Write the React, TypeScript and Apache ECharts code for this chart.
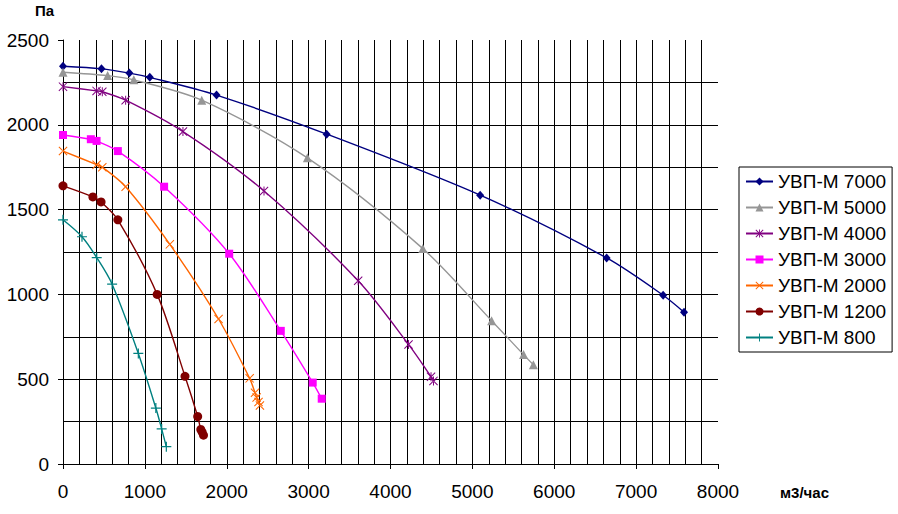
import React, { useEffect, useRef } from "react";
import * as echarts from "echarts";

const seriesNames = ["УВП-М 7000", "УВП-М 5000", "УВП-М 4000", "УВП-М 3000", "УВП-М 2000", "УВП-М 1200", "УВП-М 800"];

const q7000 = [0, 470, 810, 1060, 1875, 3220, 5095, 6640, 7330, 7585];
const p7000 = [2345, 2330, 2305, 2280, 2175, 1945, 1585, 1215, 995, 895];

const q5000 = [0, 545, 865, 1695, 2985, 4395, 5235, 5625, 5745];
const p5000 = [2310, 2290, 2265, 2145, 1805, 1270, 845, 645, 585];

const q4000 = [0, 410, 480, 765, 1465, 2455, 3605, 4220, 4495, 4525];
const p4000 = [2225, 2200, 2195, 2145, 1960, 1610, 1080, 705, 515, 490];

const q3000 = [0, 340, 410, 670, 1235, 2030, 2660, 3050, 3160];
const p3000 = [1940, 1915, 1905, 1845, 1635, 1240, 785, 480, 385];

const q2000 = [0, 410, 480, 765, 1305, 1900, 2280, 2345, 2365, 2388, 2405];
const p2000 = [1845, 1765, 1750, 1635, 1295, 855, 505, 420, 392, 366, 345];

const q1200 = [0, 365, 465, 670, 1150, 1490, 1645, 1683, 1699, 1716];
const p1200 = [1640, 1575, 1545, 1440, 1000, 517, 280, 204, 188, 170];

const q800 = [0, 232, 412, 600, 920, 1134, 1205, 1262];
const p800 = [1440, 1340, 1217, 1060, 652, 330, 207, 102];

// major ticks (labelled) and minor gridline subdivisions
const xTicks = { min: 0, max: 8000, step: 1000, minorSplits: 5 };
const yTicks = { min: 0, max: 2500, step: 500, minorSplits: 2 };

const colors = ["#000080", "#969696", "#800080", "#FF00FF", "#FF6600", "#800000", "#008080"];

const PLUS = "path://M0,4.4H10V5.6H0Z M4.4,0H5.6V10H4.4Z";
const XMARK = "path://M0,0.8L0.8,0L10,9.2L9.2,10Z M10,0.8L9.2,0L0,9.2L0.8,10Z";
const STAR = "path://M0,0.8L0.8,0L10,9.2L9.2,10Z M10,0.8L9.2,0L0,9.2L0.8,10Z M4.45,0H5.55V10H4.45Z";

const symbols: any[] = [
  { symbol: "diamond", size: [8, 9] },
  { symbol: "triangle", size: 9 },
  { symbol: STAR, size: 9 },
  { symbol: "rect", size: 8 },
  { symbol: XMARK, size: 9 },
  { symbol: "circle", size: 9 },
  { symbol: PLUS, size: 10 },
];

const qs = [q7000, q5000, q4000, q3000, q2000, q1200, q800];
const ps = [p7000, p5000, p4000, p3000, p2000, p1200, p800];

const FONT = "'Liberation Sans', Arial, sans-serif";

export default function App() {
  const ref = useRef<HTMLDivElement>(null);
  useEffect(() => {
    document.body.style.margin = "0";
    const chart = echarts.init(ref.current!, undefined, { renderer: "svg" });
    const series = seriesNames.map((name, i) => ({
      name,
      type: "line",
      data: qs[i].map((q, j) => [q, ps[i][j]]),
      smooth: 0.3,
      symbol: symbols[i].symbol,
      symbolSize: symbols[i].size,
      showAllSymbol: true,
      lineStyle: { color: colors[i], width: 1.4 },
      itemStyle: { color: colors[i], borderWidth: 0 },
      emphasis: { disabled: true },
    }));
    const grid = { show: true, lineStyle: { color: "#000", width: 1 } };
    chart.setOption({
      animation: false,
      textStyle: { fontFamily: FONT },
      grid: { left: 63, right: 180, top: 40, bottom: 50, containLabel: false },
      xAxis: {
        type: "value",
        min: xTicks.min,
        max: xTicks.max,
        interval: xTicks.step,
        axisLine: { show: true, lineStyle: { color: "#000", width: 1 } },
        axisTick: { show: true, length: 5, lineStyle: { color: "#000" } },
        axisLabel: { color: "#000", fontSize: 19, fontFamily: FONT, margin: 18, formatter: (v: number) => String(v) },
        splitLine: { ...grid, showMaxLine: false },
        minorTick: { show: false, splitNumber: xTicks.minorSplits },
        minorSplitLine: grid,
      },
      yAxis: {
        type: "value",
        min: yTicks.min,
        max: yTicks.max,
        interval: yTicks.step,
        axisLine: { show: true, lineStyle: { color: "#000", width: 1 } },
        axisTick: { show: true, length: 5, lineStyle: { color: "#000" } },
        axisLabel: { color: "#000", fontSize: 19, fontFamily: FONT, margin: 14, formatter: (v: number) => String(v) },
        splitLine: { ...grid, showMaxLine: false },
        minorTick: { show: false, splitNumber: yTicks.minorSplits },
        minorSplitLine: grid,
      },
      legend: {
        orient: "vertical",
        left: 739,
        top: 167,
        padding: [5, 6, 5, 6],
        itemGap: 7,
        itemWidth: 27,
        itemHeight: 10,
        itemTextGap: 5,
        borderColor: "#000",
        borderWidth: 1,
        backgroundColor: "#fff",
        textStyle: { color: "#000", fontSize: 19, fontFamily: FONT },
        data: seriesNames,
      },
      graphic: [
        { type: "text", left: 35, top: 3, style: { text: "Па", font: `bold 15px ${FONT}`, fill: "#000" } },
        { type: "text", left: 780, top: 485, style: { text: "м3/час", font: `bold 15px ${FONT}`, fill: "#000" } },
      ],
      series,
    });
    return () => chart.dispose();
  }, []);
  return <div ref={ref} style={{ width: 898, height: 514 }} />;
}
